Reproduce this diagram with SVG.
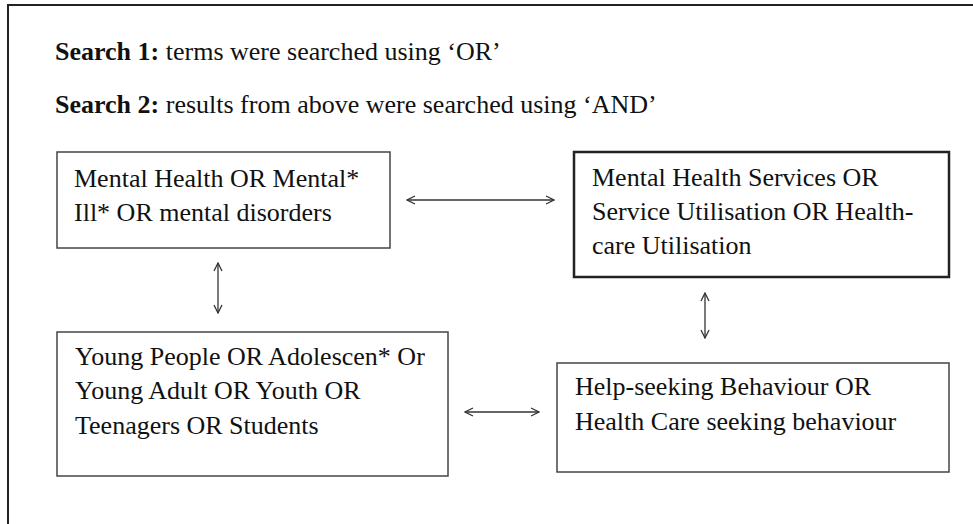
<svg xmlns="http://www.w3.org/2000/svg" width="973" height="524" viewBox="0 0 973 524">
  <style>
    .frame { fill: none; stroke: #222; stroke-width: 2; }
    .box { fill: #fff; stroke: #444; stroke-width: 1.5; }
    .box-strong { fill: #fff; stroke: #222; stroke-width: 2.5; }
    .label { font-family: "Liberation Serif", "Times New Roman", serif; font-size: 26px; fill: #111; }
    .bold { font-weight: bold; }
    .link { stroke: #333; stroke-width: 1.3; fill: none; marker-start: url(#chev); marker-end: url(#chev); }
  </style>
  <defs>
    <marker id="chev" viewBox="0 0 10 10" refX="9" refY="5" markerWidth="10" markerHeight="10" markerUnits="userSpaceOnUse" orient="auto-start-reverse">
      <path d="M1,1 L9,5 L1,9" fill="none" stroke="#333" stroke-width="1.3"/>
    </marker>
  </defs>

  <rect width="973" height="524" fill="#fff"/>
  <!-- outer frame, running off the right and bottom edges -->
  <rect class="frame" x="8" y="5" width="980" height="540"/>

  <g id="header">
    <text class="label" x="55" y="60"><tspan class="bold">Search 1:</tspan> terms were searched using ‘OR’</text>
    <text class="label" x="55" y="113"><tspan class="bold">Search 2:</tspan> results from above were searched using ‘AND’</text>
  </g>

  <g id="node-mental-health">
    <rect class="box" x="57" y="152" width="333" height="96"/>
    <text class="label" x="74" y="187">Mental Health OR Mental*</text>
    <text class="label" x="74" y="221">Ill* OR mental disorders</text>
  </g>

  <g id="node-services">
    <rect class="box-strong" x="574" y="152" width="375" height="125"/>
    <text class="label" x="592" y="186">Mental Health Services OR</text>
    <text class="label" x="592" y="220">Service Utilisation OR Health-</text>
    <text class="label" x="592" y="254">care Utilisation</text>
  </g>

  <g id="node-young-people">
    <rect class="box" x="57" y="332" width="391" height="144"/>
    <text class="label" x="75" y="365">Young People OR Adolescen* Or</text>
    <text class="label" x="75" y="399">Young Adult OR Youth OR</text>
    <text class="label" x="75" y="434">Teenagers OR Students</text>
  </g>

  <g id="node-help-seeking">
    <rect class="box" x="557" y="363" width="392" height="109"/>
    <text class="label" x="575" y="395">Help-seeking Behaviour OR</text>
    <text class="label" x="575" y="430">Health Care seeking behaviour</text>
  </g>

  <g id="connectors">
    <line class="link" x1="407" y1="200" x2="554" y2="200"/>
    <line class="link" x1="218" y1="263" x2="218" y2="313"/>
    <line class="link" x1="705" y1="293" x2="705" y2="338"/>
    <line class="link" x1="465" y1="412" x2="539" y2="412"/>
  </g>
</svg>
